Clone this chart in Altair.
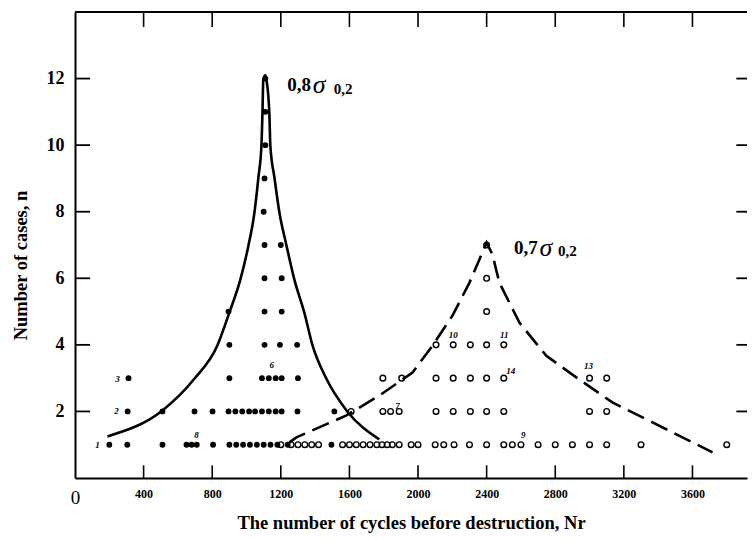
import altair as alt
import pandas as pd

# ---------------- data ----------------
# 0.8 sigma_0.2 series (filled dots): cycles per row n
filled_row1 = [200, 305, 510, 650, 680, 710, 805, 900, 940, 980, 1020, 1060, 1100, 1140, 1180, 1240, 1495]
filled_row2 = [307, 510, 697, 802, 895, 935, 975, 1015, 1050, 1090, 1130, 1170, 1205, 1297, 1512]
filled_row3 = [312, 900, 1090, 1130, 1170, 1205, 1300]
filled_row4 = [900, 1105, 1195, 1295]
filled_row5 = [895, 1105, 1205]
filled_row6 = [1105, 1205]
filled_row7 = [1105, 1200]
filled_row8 = [1100]
filled_row9 = [1105]
filled_row10 = [1110]
filled_row11 = [1110]
filled_row12 = [1110]

# 0.7 sigma_0.2 series (open circles)
open_row1 = [1200, 1260, 1300, 1340, 1380, 1420, 1560, 1600, 1640, 1680, 1720, 1760, 1790, 1820,
             1850, 1890, 1960, 2000, 2100, 2150, 2210, 2300, 2400, 2500, 2550, 2600, 2700, 2800,
             2900, 3000, 3100, 3300, 3800]
open_row2 = [1610, 1795, 1840, 1890, 2105, 2205, 2305, 2400, 2500, 3000, 3100]
open_row3 = [1795, 1905, 2105, 2205, 2305, 2400, 2500, 3000, 3100]
open_row4 = [2105, 2205, 2305, 2400, 2500]
open_row5 = [2400]
open_row6 = [2400]
open_row7 = [2400]

# envelope curves
solid_x = [189, 510, 696, 830, 900, 964, 1011, 1046, 1069, 1087, 1093, 1098, 1110,
           1116, 1133, 1139, 1163, 1192, 1232, 1279, 1337, 1384, 1466, 1583, 1774]
solid_n = [1.25, 2.03, 2.98, 3.98, 4.97, 5.96, 6.98, 7.97, 9.02, 9.98, 10.97, 11.97, 12.1,
           11.97, 10.97, 9.98, 9.02, 7.97, 7.01, 5.96, 4.97, 4.0, 2.98, 2.03, 1.16]
dashed_x = [1250, 1291, 1583, 1775, 1968, 2085, 2201, 2300, 2370, 2400,
            2434, 2474, 2591, 2748, 2940, 3133, 3367, 3717]
dashed_n = [1.07, 1.22, 1.88, 2.48, 3.17, 3.98, 4.88, 5.87, 6.71, 7.07,
            6.71, 5.87, 4.67, 3.67, 2.96, 2.27, 1.67, 0.77]

# axes
x_ticks = [0, 400, 800, 1200, 1600, 2000, 2400, 2800, 3200, 3600]
x_inner_ticks = [400, 800, 1200, 1600, 2000, 2400, 2800, 3200, 3600]
y_ticks = [2, 4, 6, 8, 10, 12]
x_max = 3918
y_max = 14.0

# annotations
ann_main = ["0,8", "0,7"]
ann_main_x = [1238, 2560]
ann_main_n = [11.8, 6.91]
ann_sigma_x = [1386, 2708]
ann_sub_x = [1508, 2816]
ann_sub_n = [11.7, 6.81]

small_labels = ["1", "2", "3", "6", "8", "7", "10", "11", "14", "13", "9"]
small_x = [131, 242, 248, 1147, 708, 1880, 2206, 2503, 2540, 2994, 2614]
small_n = [1.0, 2.0, 2.96, 3.38, 1.28, 2.15, 4.3, 4.3, 3.2, 3.35, 1.3]

# ---------------- build tables ----------------
def rows(lists):
    xs, ns = [], []
    for i, lst in enumerate(lists, start=1):
        xs += lst
        ns += [i] * len(lst)
    return pd.DataFrame({"x": xs, "n": ns})

filled_df = rows([filled_row1, filled_row2, filled_row3, filled_row4, filled_row5, filled_row6,
                  filled_row7, filled_row8, filled_row9, filled_row10, filled_row11, filled_row12])
open_df = rows([open_row1, open_row2, open_row3, open_row4, open_row5, open_row6, open_row7])
solid_df = pd.DataFrame({"x": solid_x, "n": solid_n, "o": list(range(len(solid_x)))})
dashed_df = pd.DataFrame({"x": dashed_x, "n": dashed_n, "o": list(range(len(dashed_x)))})
# inward tick marks of the frame (lengths in data units)
xt_df = pd.DataFrame({"x": x_inner_ticks,
                      "b0": 0.0, "b1": 0.38,
                      "t0": y_max - 0.45, "t1": y_max})
yt_df = pd.DataFrame({"n": y_ticks,
                      "l0": 0.0, "l1": 88.0,
                      "r0": x_max - 62.0, "r1": float(x_max)})
top_df = pd.DataFrame({"x0": [0.0], "x1": [float(x_max)], "n": [y_max]})
ann_df = pd.DataFrame({"t": ann_main, "x": ann_main_x, "n": ann_main_n,
                       "sx": ann_sigma_x, "subx": ann_sub_x, "subn": ann_sub_n})
small_df = pd.DataFrame({"t": small_labels, "x": small_x, "n": small_n})

SERIF = "Liberation Serif"
xs = alt.Scale(domain=[0, x_max], nice=False, zero=False)
ys = alt.Scale(domain=[0, y_max], nice=False, zero=False)

x_axis = alt.Axis(
    orient="bottom", values=x_ticks, ticks=False, grid=False, domain=True,
    domainColor="black", domainWidth=2,
    labelFont={"condition": {"test": "datum.value == 0", "value": SERIF}, "value": "Liberation Sans Narrow"},
    labelFontSize={"condition": {"test": "datum.value == 0", "value": 19}, "value": 12},
    labelFontWeight={"condition": {"test": "datum.value == 0", "value": "normal"}, "value": "bold"},
    labelColor="black", labelPadding=10, labelFlush=False, format="d",
    title="The number of cycles before destruction, Nr",
    titleFont=SERIF, titleFontSize=18.5, titleFontWeight="bold", titleColor="black", titlePadding=6,
)
y_axis = alt.Axis(
    orient="left", values=y_ticks, ticks=False, grid=False, domain=True,
    domainColor="black", domainWidth=2,
    labelFont=SERIF, labelFontSize=18, labelFontWeight="bold", labelColor="black", labelPadding=11,
    title="Number of cases, n",
    titleFont=SERIF, titleFontSize=18.5, titleFontWeight="bold", titleColor="black",
    titleX=-55, titleY=253, titleBaseline="middle", titleAlign="center", titleAngle=270,
)


def X(field):
    return alt.X(field, type="quantitative", scale=xs, axis=x_axis)


def Y(field):
    return alt.Y(field, type="quantitative", scale=ys, axis=y_axis)


filled = alt.Chart(filled_df).mark_circle(size=34, color="black", opacity=1).encode(
    x=X("x"), y=Y("n"))
opened = alt.Chart(open_df).mark_point(shape="circle", filled=False, size=32, color="black",
                                       strokeWidth=1.4, opacity=1).encode(x=X("x"), y=Y("n"))
solid = alt.Chart(solid_df).mark_line(color="black", strokeWidth=2.6, interpolate="monotone").encode(
    x=X("x"), y=Y("n"), order="o:Q")
dashed = alt.Chart(dashed_df).mark_line(color="black", strokeWidth=2.6, strokeDash=[18, 8],
                                        interpolate="linear").encode(
    x=X("x"), y=Y("n"), order="o:Q")

# frame: top line + inward ticks
top_line = alt.Chart(top_df).mark_rule(color="black", strokeWidth=2).encode(
    x=X("x0"), x2="x1:Q", y=Y("n"))
top_ticks = alt.Chart(xt_df).mark_rule(color="black", strokeWidth=1.6).encode(
    x=X("x"), y=Y("t0"), y2="t1:Q")
bottom_ticks = alt.Chart(xt_df).mark_rule(color="black", strokeWidth=1.6).encode(
    x=X("x"), y=Y("b0"), y2="b1:Q")
left_ticks = alt.Chart(yt_df).mark_rule(color="black", strokeWidth=1.8).encode(
    y=Y("n"), x=X("l0"), x2="l1:Q")
right_ticks = alt.Chart(yt_df).mark_rule(color="black", strokeWidth=1.8).encode(
    y=Y("n"), x=X("r0"), x2="r1:Q")

ann_text = alt.Chart(ann_df).mark_text(font=SERIF, fontSize=19, fontWeight="bold", align="left",
                                       baseline="middle", color="black").encode(
    x=X("x"), y=Y("n"), text="t:N")
ann_sigma = alt.Chart(ann_df).mark_text(font=SERIF, fontSize=26, fontStyle="italic", align="left",
                                        baseline="middle", color="black").encode(
    x=X("sx"), y=Y("n"), text=alt.value("σ"))
ann_sub = alt.Chart(ann_df).mark_text(font=SERIF, fontSize=15, fontWeight="bold", align="left",
                                      baseline="middle", color="black").encode(
    x=X("subx"), y=Y("subn"), text=alt.value("0,2"))
small_text = alt.Chart(small_df).mark_text(font=SERIF, fontSize=9, fontStyle="italic", fontWeight="bold",
                                           align="center", baseline="middle", color="black").encode(
    x=X("x"), y=Y("n"), text="t:N")

chart = alt.layer(
    filled, top_line, top_ticks, bottom_ticks, left_ticks, right_ticks, solid, dashed, opened,
    ann_text, ann_sigma, ann_sub, small_text,
).properties(
    width=672, height=466,
    autosize=alt.AutoSizeParams(type="none"),
    padding={"left": 67, "top": 4, "right": 1, "bottom": 56},
    background="white",
).configure_view(stroke=None)

chart.save("out.html", embed_options={"renderer": "svg", "actions": False})
